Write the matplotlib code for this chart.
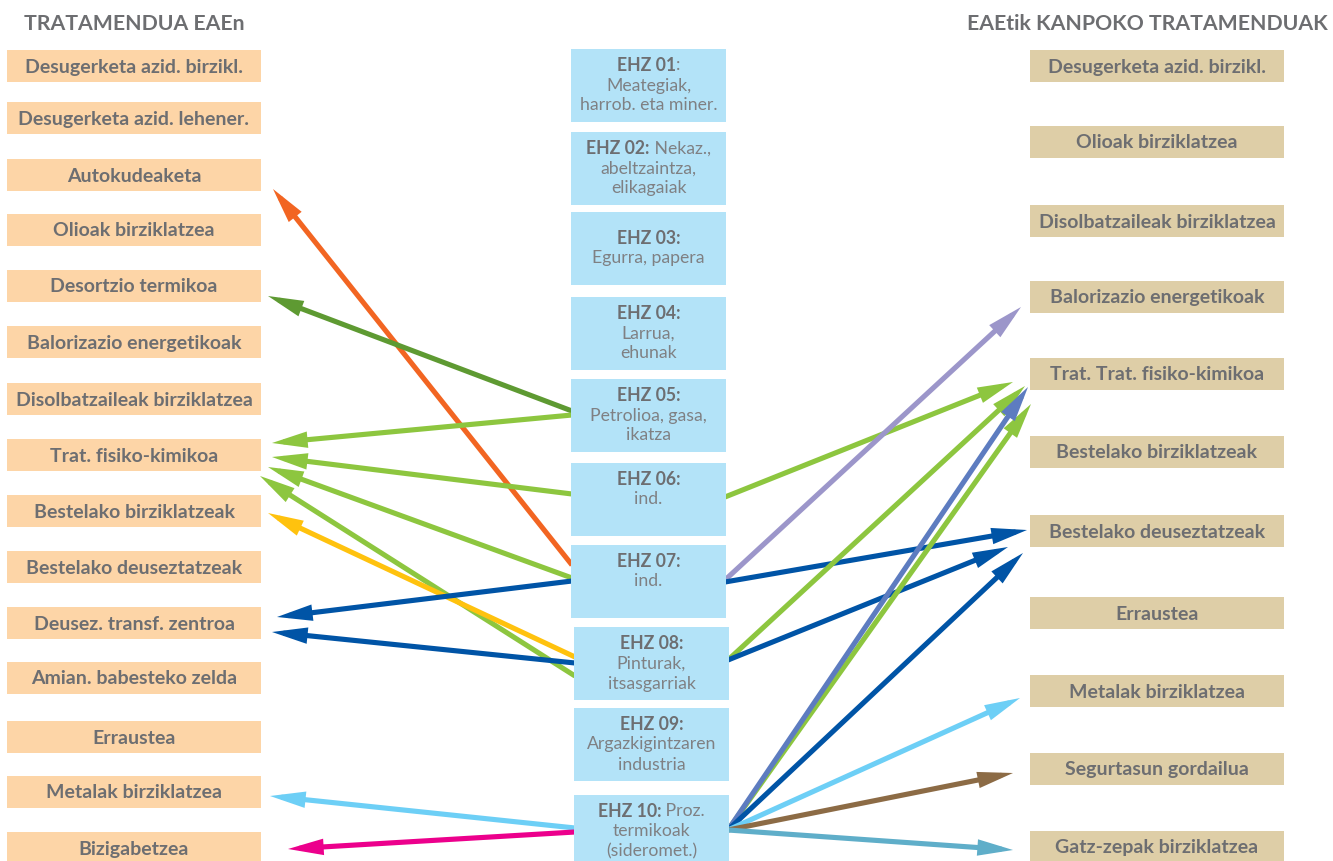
import matplotlib
matplotlib.use("Agg")
import matplotlib.pyplot as plt
from matplotlib.patches import Rectangle, FancyArrowPatch

# ---------------- data ----------------
left_title = "TRATAMENDUA EAEn"
right_title = "EAEtik KANPOKO TRATAMENDUAK"

left_labels = ["Desugerketa azid. birzikl.", "Desugerketa azid. lehener.", "Autokudeaketa",
               "Olioak birziklatzea", "Desortzio termikoa", "Balorizazio energetikoak",
               "Disolbatzaileak birziklatzea", "Trat. fisiko-kimikoa", "Bestelako birziklatzeak",
               "Bestelako deuseztatzeak", "Deusez. transf. zentroa", "Amian. babesteko zelda",
               "Erraustea", "Metalak birziklatzea", "Bizigabetzea"]

right_labels = ["Desugerketa azid. birzikl.", "Olioak birziklatzea", "Disolbatzaileak birziklatzea",
                "Balorizazio energetikoak", "Trat. Trat. fisiko-kimikoa", "Bestelako birziklatzeak",
                "Bestelako deuseztatzeak", "Erraustea", "Metalak birziklatzea",
                "Segurtasun gordailua", "Gatz-zepak birziklatzea"]

center_codes = ["EHZ 01", "EHZ 02:", "EHZ 03:", "EHZ 04:", "EHZ 05:",
                "EHZ 06:", "EHZ 07:", "EHZ 08:", "EHZ 09:", "EHZ 10:"]
# each entry: list of lines; first line is appended to the bold code
center_desc = [[":", "Meategiak,", "harrob. eta miner."],
               [" Nekaz.,", "abeltzaintza,", "elikagaiak"],
               ["", "Egurra, papera"],
               ["", "Larrua,", "ehunak"],
               ["", "Petrolioa, gasa,", "ikatza"],
               ["", "ind.", ""],
               ["", "ind.", ""],
               ["", "Pinturak,", "itsasgarriak"],
               ["", "Argazkigintzaren", "industria"],
               [" Proz.", "termikoak", "(sideromet.)"]]

# links to treatments inside the region (left): source EHZ index -> left label index
left_src = [6, 4, 4, 5, 6, 7, 7, 6, 7, 9, 9]
left_tgt = [2, 4, 7, 7, 7, 7, 8, 10, 10, 13, 14]
left_col = ["#F26522", "#5E9A32", "#8DC63F", "#8DC63F", "#8DC63F", "#8DC63F",
            "#FFC20E", "#0054A6", "#0054A6", "#6DCFF6", "#EC008C"]

# links to treatments outside the region (right): source EHZ index -> right label index
right_src = [5, 6, 6, 7, 7, 9, 9, 9, 9, 9, 9]
right_tgt = [4, 3, 6, 4, 6, 4, 4, 6, 8, 9, 10]
right_col = ["#8DC63F", "#9C96CA", "#0054A6", "#8DC63F", "#0054A6", "#8DC63F",
             "#5D7CC0", "#0054A6", "#6DCFF6", "#8C6B45", "#5FAEC9"]

# ---------------- layout (pixels) ----------------
W, H = 1333, 861
left_box_x, side_box_w, side_box_h = 7, 254, 32
right_box_x = 1030
left_tops = [50, 102, 159, 214, 270, 326, 383, 439, 495, 551, 607, 662, 721, 776, 832]
right_tops = [50, 126, 205, 281, 358, 436, 515, 597, 675, 753, 831]
center_tops = [49, 132, 212, 297, 379, 463, 545, 627, 708, 795]
center_x = [571, 571, 571, 571, 571, 571, 571, 574, 574, 574]
center_w, center_h = 155, 73

# arrow anchor geometry: start y on the EHZ box edge, tip position near target box
left_start_y = [565, 411, 415, 494, 578, 676, 657, 581, 663, 828, 832]
left_tip = [(273, 189), (268, 296), (272, 443), (272, 457), (268, 467), (260, 476),
            (268, 513), (277, 617), (272, 632), (270, 796), (288, 849)]
right_start_y = [497, 580, 582, 660, 660, 830, 830, 830, 830, 830, 830]
right_tip = [(1013, 382), (1021, 307), (1027, 530), (1025, 386), (1008, 547), (1031, 404),
             (1028, 387), (1023, 553), (1020, 698), (1013, 773), (1013, 850)]

LEFT_FILL = "#FDD5A7"
RIGHT_FILL = "#DECEA7"
CENTER_FILL = "#B3E3F8"
TXT = "#6D6E71"
TXT_LIGHT = "#7F8083"
FONT = ["Lato", "DejaVu Sans"]

plt.rcParams["font.family"] = FONT

fig = plt.figure(figsize=(W / 100, H / 100), dpi=100)
ax = fig.add_axes([0, 0, 1, 1])
ax.set_xlim(0, W)
ax.set_ylim(H, 0)
ax.axis("off")

# titles
ax.text(24, 24, left_title, ha="left", va="center", fontsize=15.3, fontweight="bold", color=TXT)
ax.text(1328, 24, right_title, ha="right", va="center", fontsize=15.3, fontweight="bold", color=TXT)

# side boxes
for lbl, top in zip(left_labels, left_tops):
    ax.add_patch(Rectangle((left_box_x, top), side_box_w, side_box_h, fc=LEFT_FILL, ec="none", zorder=3))
    ax.text(left_box_x + side_box_w / 2, top + side_box_h / 2 + 1, lbl, ha="center", va="center",
            fontsize=14, fontweight="bold", color=TXT, zorder=4)
for lbl, top in zip(right_labels, right_tops):
    ax.add_patch(Rectangle((right_box_x, top), side_box_w, side_box_h, fc=RIGHT_FILL, ec="none", zorder=3))
    ax.text(right_box_x + side_box_w / 2, top + side_box_h / 2 + 1, lbl, ha="center", va="center",
            fontsize=14, fontweight="bold", color=TXT, zorder=4)

# center boxes
line_gap = 20
mixed = []
for code, desc, top, x0 in zip(center_codes, center_desc, center_tops, center_x):
    ax.add_patch(Rectangle((x0, top), center_w, center_h, fc=CENTER_FILL, ec="none", zorder=3))
    n = len(desc)
    cx = x0 + center_w / 2
    cy = top + center_h / 2
    ys = [cy + (i - (n - 1) / 2) * line_gap for i in range(n)]
    # first line: bold code + regular rest
    t1 = ax.text(0, ys[0], code, ha="left", va="center", fontsize=12.7, fontweight="bold",
                 color=TXT, zorder=4)
    t2 = ax.text(0, ys[0], desc[0], ha="left", va="center", fontsize=12.7,
                 color=TXT_LIGHT, zorder=4)
    mixed.append((cx, t1, t2))
    for line, y in zip(desc[1:], ys[1:]):
        if line:
            ax.text(cx, y, line, ha="center", va="center", fontsize=12.7, color=TXT_LIGHT, zorder=4)

fig.canvas.draw()
r = fig.canvas.get_renderer()
inv = ax.transData.inverted()
scale = (inv.transform((1, 0))[0] - inv.transform((0, 0))[0])
for cx, t1, t2 in mixed:
    w1 = t1.get_window_extent(r).width
    w2 = t2.get_window_extent(r).width if t2.get_text() else 0
    total = (w1 + w2) * scale
    start = cx - total / 2
    t1.set_x(start)
    t2.set_x(start + w1 * scale)

style = "-|>,head_length=1.3,head_width=0.3"


def arrow(p0, p1, color):
    a = FancyArrowPatch(p0, p1, arrowstyle=style, mutation_scale=12, lw=3.7,
                        color=color, shrinkA=0, shrinkB=0, joinstyle="miter", capstyle="butt",
                        zorder=2)
    ax.add_patch(a)


for s, t, c, sy, tip in zip(left_src, left_tgt, left_col, left_start_y, left_tip):
    arrow((center_x[s] + 1, sy), tip, c)
for s, t, c, sy, tip in zip(right_src, right_tgt, right_col, right_start_y, right_tip):
    arrow((center_x[s] + center_w - 1, sy), tip, c)

fig.savefig("out.png", dpi=100, facecolor="white")
